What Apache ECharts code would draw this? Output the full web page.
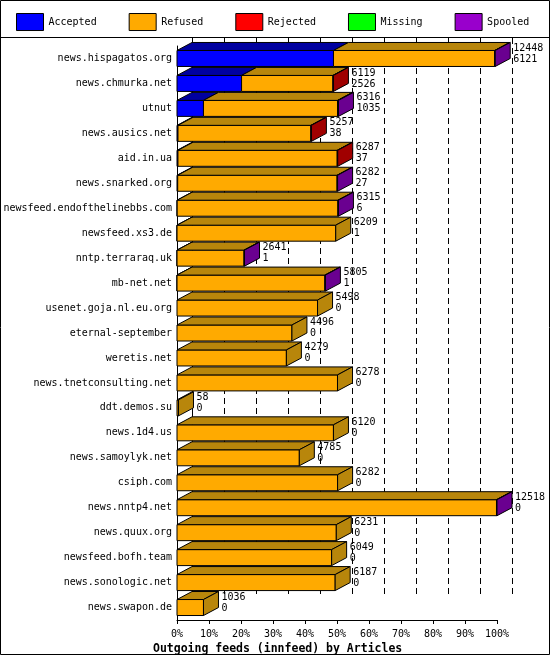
<!DOCTYPE html>
<html>
<head>
<script src="https://cdn.jsdelivr.net/npm/echarts@6/dist/echarts.min.js"></script>
<style>
  body { margin: 0; background: #fff; }
  #chart { width: 550px; height: 655px; }
</style>
</head>
<body>
<div id="chart"></div>
<script>
// hosts, totals (articles) and accepted counts
let hosts = ['news.hispagatos.org', 'news.chmurka.net', 'utnut', 'news.ausics.net', 'aid.in.ua',
  'news.snarked.org', 'newsfeed.endofthelinebbs.com', 'newsfeed.xs3.de', 'nntp.terraraq.uk', 'mb-net.net',
  'usenet.goja.nl.eu.org', 'eternal-september', 'weretis.net', 'news.tnetconsulting.net', 'ddt.demos.su',
  'news.1d4.us', 'news.samoylyk.net', 'csiph.com', 'news.nntp4.net', 'news.quux.org',
  'newsfeed.bofh.team', 'news.sonologic.net', 'news.swapon.de'];
let totals = [12448, 6119, 6316, 5257, 6287, 6282, 6315, 6209, 2641, 5805, 5498, 4496, 4279, 6278, 58,
  6120, 4785, 6282, 12518, 6231, 6049, 6187, 1036];
let accepted = [6121, 2526, 1035, 38, 37, 27, 6, 1, 1, 1, 0, 0, 0, 0, 0, 0, 0, 0, 0, 0, 0, 0, 0];
let rejected = [0, 20, 12, 20, 20, 0, 0, 0, 0, 0, 0, 0, 0, 0, 0, 0, 0, 0, 0, 0, 0, 0, 0];
let missing  = [0, 0, 0, 0, 0, 0, 0, 0, 0, 0, 0, 0, 0, 0, 0, 0, 0, 0, 0, 0, 0, 0, 0];
let spooled  = [20, 0, 20, 0, 0, 20, 20, 0, 20, 20, 0, 0, 0, 0, 0, 0, 0, 0, 20, 0, 0, 0, 0];
let maxTotal = 12518;

let names = ['Accepted', 'Refused', 'Rejected', 'Missing', 'Spooled'];
let front = ['#0000ff', '#ffaa00', '#ff0000', '#00ff00', '#9900cc'];
let dark  = ['#0000a0', '#b8860b', '#a00000', '#00a000', '#6a0090'];

let DX = 15, DY = 8, H = 16;

function pct(v) { return v / maxTotal * 100; }

// build segments per kind
let segs = [[], [], [], [], []];
for (let i = 0; i < hosts.length; i++) {
  let refused = totals[i] - accepted[i] - rejected[i] - missing[i] - spooled[i];
  let parts = [accepted[i], refused, rejected[i], missing[i], spooled[i]];
  let last = 0;
  for (let k = 0; k < 5; k++) if (parts[k] > 0) last = k;
  let acc = 0;
  for (let k = 0; k < 5; k++) {
    if (parts[k] > 0) segs[k].push([pct(acc), pct(acc + parts[k]), i, k === last ? 1 : 0]);
    acc += parts[k];
  }
}

function makeRender(k) {
  return function (params, api) {
    let a = api.coord([api.value(0), api.value(2)]);
    let b = api.coord([api.value(1), api.value(2)]);
    let cy = a[1], x0 = a[0], x1 = b[0];
    let ch = [
      { type: 'rect', shape: { x: x0, y: cy - H / 2, width: x1 - x0, height: H },
        style: { fill: front[k], stroke: '#000', lineWidth: 1 } },
      { type: 'polygon', shape: { points: [[x0, cy - H / 2], [x0 + DX, cy - H / 2 - DY], [x1 + DX, cy - H / 2 - DY], [x1, cy - H / 2]] },
        style: { fill: dark[k], stroke: '#000', lineWidth: 1 } }
    ];
    if (api.value(3) === 1) {
      ch.push({ type: 'polygon', shape: { points: [[x1, cy - H / 2], [x1 + DX, cy - H / 2 - DY], [x1 + DX, cy + H / 2 - DY], [x1, cy + H / 2]] },
        style: { fill: dark[k], stroke: '#000', lineWidth: 1 } });
    }
    return { type: 'group', children: ch };
  };
}

let labelData = hosts.map(function (h, i) { return [pct(totals[i]), i, totals[i] + '\n' + accepted[i]]; });

let series = names.map(function (n, k) {
  return {
    name: n, type: 'custom', renderItem: makeRender(k), data: segs[k],
    itemStyle: { color: front[k] }, encode: { x: [0, 1], y: 2 }, silent: true
  };
});
series.push({
  type: 'custom', silent: true, data: labelData, encode: { x: 0, y: 1 },
  renderItem: function (params, api) {
    let p = api.coord([api.value(0), api.value(1)]);
    return { type: 'text', style: { x: p[0] + DX + 3, y: p[1] - 16, text: labelData[params.dataIndex][2],
      font: '10px "DejaVu Sans Mono"', fill: '#000', lineHeight: 11 } };
  }
});

let chart = echarts.init(document.getElementById('chart'));
chart.setOption({
  animation: false,
  textStyle: { fontFamily: 'DejaVu Sans Mono' },
  legend: {
    data: names, top: 8, left: 11, itemWidth: 27, itemHeight: 17, itemGap: 32, icon: 'rect',
    textStyle: { fontSize: 10, color: '#000', width: 73 },
    itemStyle: { borderColor: '#000', borderWidth: 1 }
  },
  title: {
    text: 'Outgoing feeds (innfeed) by Articles', left: 148, top: 634,
    textStyle: { fontSize: 11.5, fontWeight: 'bold', color: '#000', fontFamily: 'DejaVu Sans Mono' }
  },
  graphic: [
    { type: 'rect', shape: { x: 0.5, y: 0.5, width: 549, height: 654 }, style: { fill: 'none', stroke: '#000' } },
    { type: 'line', shape: { x1: 0, y1: 37.5, x2: 550, y2: 37.5 }, style: { stroke: '#000' } }
  ],
  grid: [
    { left: 177, right: 53, top: 46, bottom: 35, outerBoundsMode: 'none' },
    { left: 192, right: 38, top: 38, bottom: 58, outerBoundsMode: 'none' }
  ],
  xAxis: [
    { type: 'value', min: 0, max: 100, interval: 10, gridIndex: 0,
      axisLabel: { formatter: '{value}%', fontSize: 10, color: '#000', margin: 5 },
      axisLine: { show: true, lineStyle: { color: '#000' } },
      axisTick: { show: true, length: 4, lineStyle: { color: '#000' } },
      splitLine: { show: false } },
    { type: 'value', min: 0, max: 100, interval: 10, gridIndex: 1,
      axisLabel: { show: false }, axisTick: { show: false },
      axisLine: { show: false },
      splitLine: { show: true, lineStyle: { color: '#000', type: [6, 4] } } }
  ],
  yAxis: [
    { type: 'category', data: hosts, inverse: true, gridIndex: 0,
      axisLabel: { fontSize: 10, color: '#000', margin: 5, interval: 0 },
      axisLine: { show: true, lineStyle: { color: '#000' } },
      axisTick: { show: false } },
    { type: 'category', data: hosts, inverse: true, gridIndex: 1, position: 'right',
      axisLabel: { show: false }, axisTick: { show: false },
      axisLine: { show: true, lineStyle: { color: '#000' } } }
  ],
  series: series
});
</script>
</body>
</html>
